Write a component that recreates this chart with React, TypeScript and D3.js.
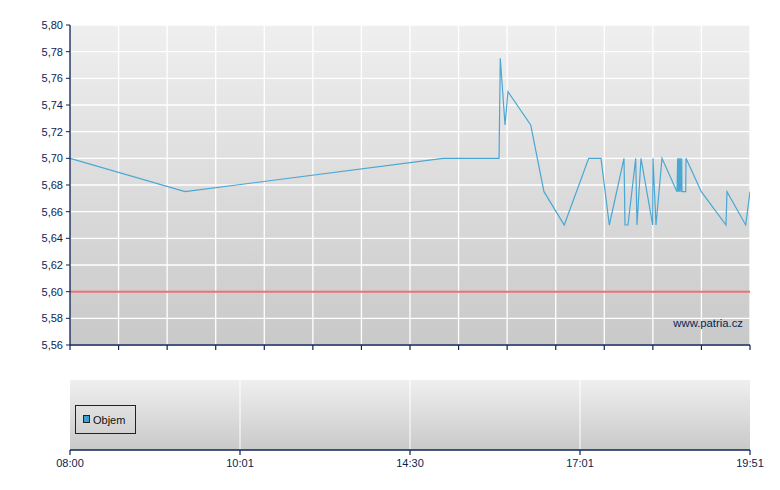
import React from "react";
import * as d3 from "d3";

// Time in minutes since midnight (piecewise time axis), price in CZK
const times = [
  480, 561.9, 899.3, 949.1, 950.2, 954.4, 957.0, 977.2, 989.0, 1007.0,
  1029.7, 1042.0, 1050.3, 1065.0, 1066.0, 1069.0, 1076.7, 1078.0, 1082.0,
  1093.7, 1094.0, 1097.0, 1103.0, 1118.0, 1118.7, 1119.3, 1120.0, 1120.6,
  1121.3, 1122.0, 1122.7, 1123.0, 1126.7, 1127.0, 1142.3, 1167.0, 1168.0,
  1186.7, 1191.0,
];
const prices = [
  5.7, 5.675, 5.7, 5.7, 5.775, 5.725, 5.75, 5.725, 5.675, 5.65,
  5.7, 5.7, 5.65, 5.7, 5.65, 5.65, 5.7, 5.65, 5.7,
  5.65, 5.7, 5.65, 5.7, 5.675, 5.7, 5.675, 5.7, 5.675,
  5.7, 5.675, 5.7, 5.675, 5.675, 5.7, 5.675, 5.65, 5.675,
  5.65, 5.675,
];
const refPrice = 5.6;
const yTicks = [5.56, 5.58, 5.6, 5.62, 5.64, 5.66, 5.68, 5.7, 5.72, 5.74, 5.76, 5.78, 5.8];
const xLabelTimes = [480, 601, 870, 1021, 1191];
const xLabels = ["08:00", "10:01", "14:30", "17:01", "19:51"];
const gridDivisions = 14;
const legendLabel = "Objem";
const watermark = "www.patria.cz";

const W = 780;
const H = 490;
const left = 70;
const right = 750;
const top1 = 25;
const bottom1 = 345;
const top2 = 380;
const bottom2 = 450;
const navy = "#0c2356";
const font = "'Liberation Sans', Arial, sans-serif";

export default function App() {
  const pw = right - left;
  const x = d3
    .scaleLinear()
    .domain(xLabelTimes)
    .range(xLabelTimes.map((_, i) => left + (pw * i) / (xLabelTimes.length - 1)));
  const y = d3.scaleLinear().domain([5.56, 5.8]).range([bottom1, top1]);
  const gx = d3.scaleLinear().domain([0, gridDivisions]).range([left, right]);
  const gridIdx = d3.range(gridDivisions + 1);

  const line = d3
    .line<number>()
    .x((_, i) => x(times[i]))
    .y((d) => y(d));

  const fmt = (v: number) => v.toFixed(2).replace(".", ",");

  return (
    <svg
      width={W}
      height={H}
      style={{ position: "absolute", left: 0, top: 0, background: "#fff" }}
      fontFamily={font}
    >
      <defs>
        <linearGradient id="bg1" x1="0" y1="0" x2="0" y2="1">
          <stop offset="0" stopColor="#efefef" />
          <stop offset="1" stopColor="#c9c9c9" />
        </linearGradient>
        <linearGradient id="bg2" x1="0" y1="0" x2="0" y2="1">
          <stop offset="0" stopColor="#efefef" />
          <stop offset="1" stopColor="#c9c9c9" />
        </linearGradient>
        <clipPath id="clip1">
          <rect x={left} y={top1} width={pw} height={bottom1 - top1} />
        </clipPath>
      </defs>

      {/* Top panel */}
      <rect x={left} y={top1} width={pw} height={bottom1 - top1} fill="url(#bg1)" />
      {yTicks.map((t) => (
        <line key={"hy" + t} x1={left} x2={right} y1={y(t)} y2={y(t)} stroke="#fff" strokeWidth={1.3} />
      ))}
      {gridIdx.slice(1).map((i) => (
        <line key={"gx" + i} x1={gx(i)} x2={gx(i)} y1={top1} y2={bottom1} stroke="#fff" strokeWidth={1.3} />
      ))}
      <line x1={left} x2={right} y1={y(refPrice)} y2={y(refPrice)} stroke="#ea7272" strokeWidth={2} />
      <path d={line(prices) || ""} fill="none" stroke="#4aa7d4" strokeWidth={1.2} clipPath="url(#clip1)" />
      <text x={743} y={327} textAnchor="end" fontSize={11.3} fill={navy}>
        {watermark}
      </text>

      {/* Top axes */}
      <line x1={left} x2={left} y1={top1} y2={bottom1} stroke={navy} strokeWidth={1.3} />
      <line x1={left} x2={right} y1={bottom1} y2={bottom1} stroke={navy} strokeWidth={1.3} />
      {yTicks.map((t) => (
        <g key={"yt" + t}>
          <line x1={left - 4} x2={left} y1={y(t)} y2={y(t)} stroke={navy} />
          <text x={63} y={y(t) + 4} textAnchor="end" fontSize={11} fill={navy}>
            {fmt(t)}
          </text>
        </g>
      ))}
      {gridIdx.map((i) => (
        <line key={"xt" + i} x1={gx(i)} x2={gx(i)} y1={bottom1} y2={bottom1 + 5} stroke={navy} strokeWidth={1.2} />
      ))}

      {/* Bottom panel */}
      <rect x={left} y={top2} width={pw} height={bottom2 - top2} fill="url(#bg2)" />
      {xLabelTimes.slice(1, -1).map((t) => (
        <line key={"bg" + t} x1={x(t)} x2={x(t)} y1={top2} y2={bottom2} stroke="#fff" strokeWidth={1} />
      ))}
      <line x1={left} x2={right} y1={bottom2} y2={bottom2} stroke={navy} strokeWidth={1.3} />
      {xLabelTimes.map((t, i) => (
        <g key={"bx" + t}>
          <line x1={x(t)} x2={x(t)} y1={bottom2} y2={bottom2 + 5} stroke={navy} strokeWidth={1.2} />
          <text x={x(t)} y={467} textAnchor="middle" fontSize={11} fill={navy}>
            {xLabels[i]}
          </text>
        </g>
      ))}

      {/* Legend */}
      <rect x={75.5} y={405.5} width={60} height={28} fill="none" stroke="#222" strokeWidth={1} />
      <rect x={83.5} y={415.5} width={6} height={7} fill="#3b9fd2" stroke="#222" strokeWidth={1} />
      <text x={93} y={424} fontSize={11} fill="#111">
        {legendLabel}
      </text>
    </svg>
  );
}
